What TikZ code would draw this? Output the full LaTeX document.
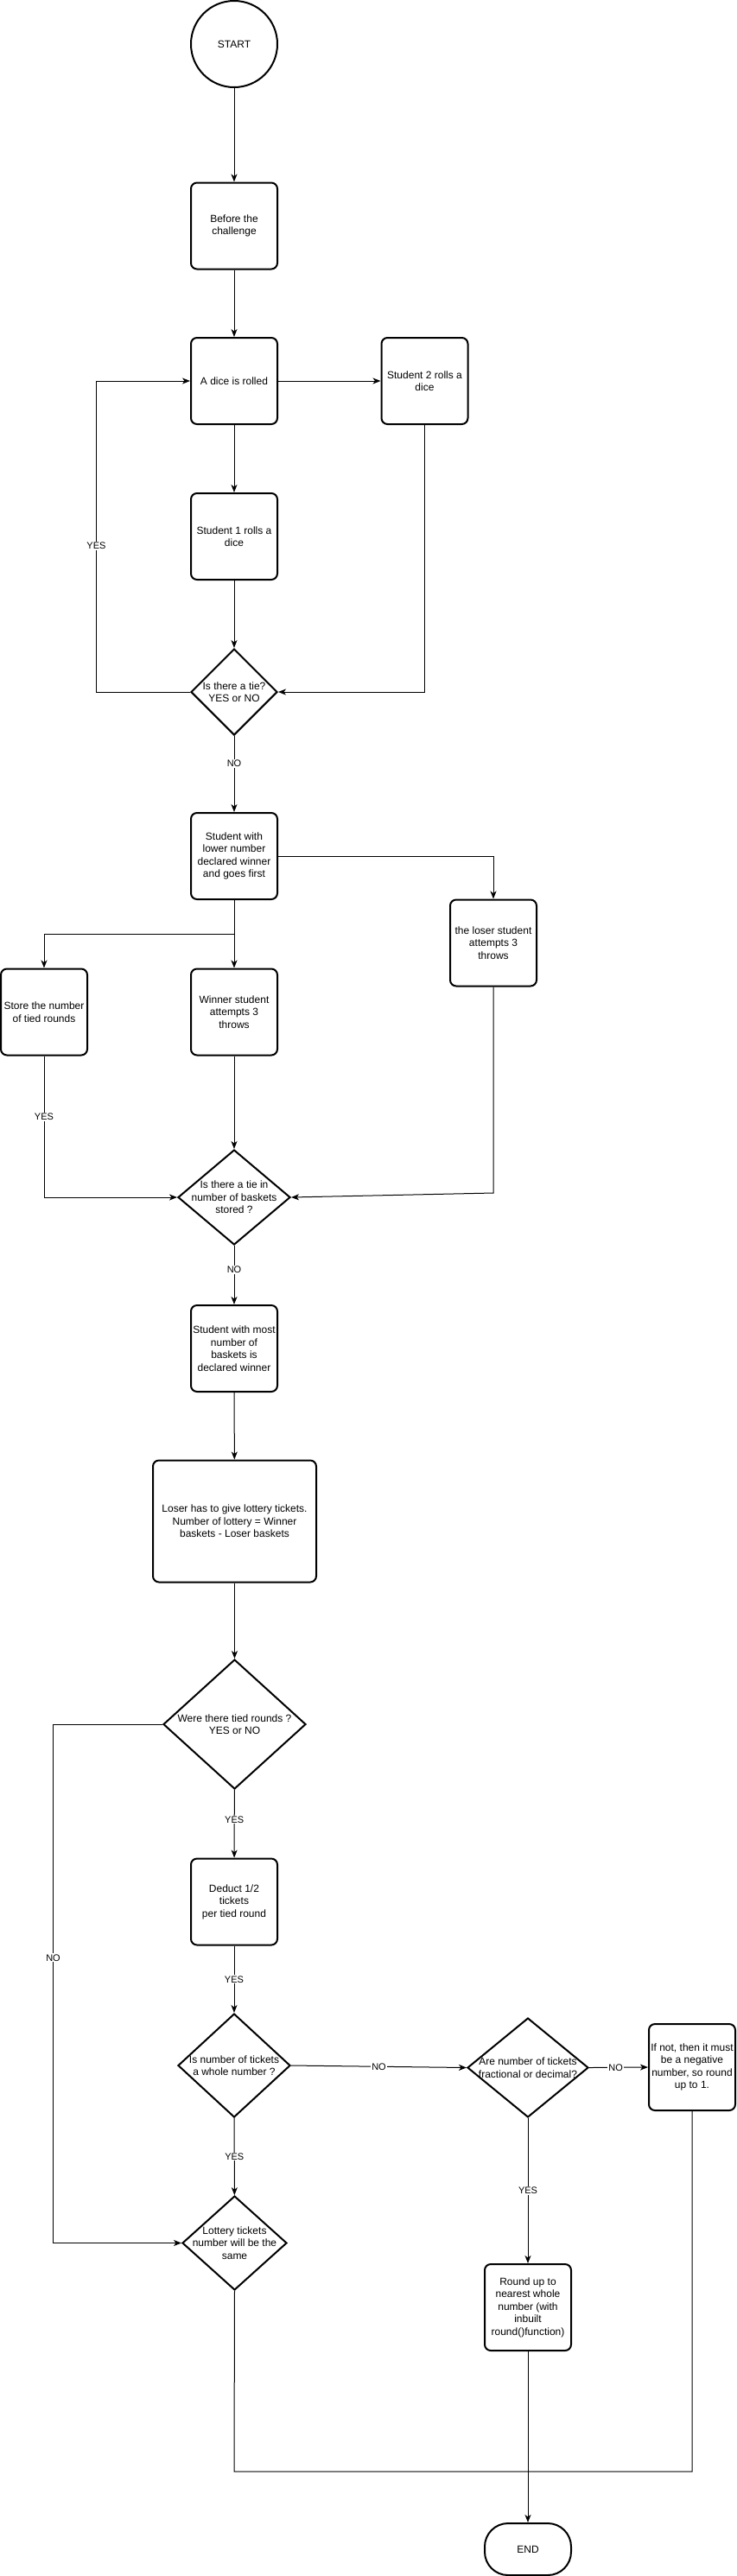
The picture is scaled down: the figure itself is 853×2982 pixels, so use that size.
\documentclass[tikz,border=0pt]{standalone}
\usepackage{fontspec}
\setmainfont{Liberation Sans}
\usetikzlibrary{shapes.geometric,arrows.meta}
\begin{document}
\begin{tikzpicture}[x=1pt,y=-1pt,
  box/.style={draw, line width=2pt, rounded corners=7pt, minimum width=100pt, minimum height=100pt, align=center, inner sep=0pt, font=\fontsize{12}{14.5}\selectfont},
  decision/.style={draw, diamond, line width=2pt, inner sep=0pt},
  dtext/.style={align=center, inner sep=0pt, font=\fontsize{12}{14.5}\selectfont},
  elabel/.style={fill=white, inner sep=1pt, font=\fontsize{11}{13}\selectfont},
  conn/.style={line width=1pt, -{Stealth[length=9pt,width=7pt,inset=2.5pt]}},
  plain/.style={line width=1pt}]
\useasboundingbox (0,0) rectangle (853,2982);
% nodes
\node[draw, circle, line width=2pt, minimum size=100pt, inner sep=0pt, font=\fontsize{12}{14.5}\selectfont] (start) at (271,51) {START};
\node[box] (before) at (271,261.5) {Before the\\challenge};
\node[box] (dice) at (271,441) {A dice is rolled};
\node[box] (s2) at (491.5,441) {Student 2 rolls a\\dice};
\node[box] (s1) at (271,621) {Student 1 rolls a\\dice};
\node[decision, minimum width=100pt, minimum height=100pt] (tie1) at (271,801) {};
\node[dtext] (tie1t) at (tie1.center) {Is there a tie?\\YES or NO};
\node[box] (lower) at (271,991) {Student with\\lower number\\declared winner\\and goes first};
\node[box] (loser) at (571,1091.5) {the loser student\\attempts 3\\throws};
\node[box] (store) at (51,1171.5) {Store the number\\of tied rounds};
\node[box] (winner) at (271,1171.5) {Winner student\\attempts 3\\throws};
\node[decision, minimum width=130pt, minimum height=110pt] (tie2) at (271,1386) {};
\node[dtext] (tie2t) at (tie2.center) {Is there a tie in\\number of baskets\\stored ?};
\node[box] (most) at (271,1561) {Student with most\\number of\\baskets is\\declared winner};
\node[box, minimum width=189pt, minimum height=141pt] (give) at (271.5,1761) {Loser has to give lottery tickets.\\Number of lottery = Winner\\baskets - Loser baskets};
\node[decision, minimum width=165pt, minimum height=150pt] (tied) at (271.5,1996) {};
\node[dtext] (tiedt) at (tied.center) {Were there tied rounds ?\\YES or NO};
\node[box] (deduct) at (271,2201.5) {Deduct 1/2\\tickets\\per tied round};
\node[decision, minimum width=130pt, minimum height=120pt] (whole) at (271,2391) {};
\node[dtext] (wholet) at (whole.center) {Is number of tickets\\a whole number ?};
\node[decision, minimum width=140pt, minimum height=115pt] (frac) at (611,2393.5) {};
\node[dtext] (fract) at (frac.center) {Are number of tickets\\fractional or decimal?};
\node[box] (ifnot) at (801,2393) {If not, then it must\\be a negative\\number, so round\\up to 1.};
\node[decision, minimum width=121pt, minimum height=109pt] (lottery) at (271.5,2596.5) {};
\node[dtext] (lotteryt) at (lottery.center) {Lottery tickets\\number will be the\\same};
\node[box] (round) at (611,2671) {Round up to\\nearest whole\\number (with\\inbuilt\\round()function)};
\node[draw, line width=2pt, rounded corners=27pt, minimum width=100pt, minimum height=60pt, inner sep=0pt, font=\fontsize{12}{14.5}\selectfont] (end) at (611,2951) {END};
% helper coordinates
\coordinate (yesloop) at (111.5,801);
\coordinate (split) at (271,1081);
\coordinate (loserbend) at (571,1381);
\coordinate (nobend) at (61.5,1996);
\coordinate (joinL) at (271,2861);
% connectors
\draw[conn] (start) -- (before);
\draw[conn] (before) -- (dice);
\draw[conn] (dice) -- (s2);
\draw[conn] (dice) -- (s1);
\draw[conn] (s1) -- (tie1);
\draw[conn] (s2.south) |- (tie1.east);
\draw[conn] (tie1.west) -- (yesloop) -- node[elabel, pos=0.47] {YES} (yesloop |- dice.west) -- (dice.west);
\draw[conn] (tie1) -- node[elabel, pos=0.36] {NO} (lower);
\draw[conn] (lower.east) -| (loser.north);
\draw[conn] (lower.south) -- (winner.north);
\draw[conn] (split) -| (store.north);
\draw[conn] (store.south) -- node[elabel, pos=0.43] {YES} (store.south |- tie2.west) -- (tie2.west);
\draw[conn] (winner) -- (tie2);
\draw[conn] (loser.south) -- (loserbend) -- (tie2.east);
\draw[conn] (tie2) -- node[elabel, pos=0.41] {NO} (most);
\draw[conn] (most) -- (give);
\draw[conn] (give) -- (tied);
\draw[conn] (tied) -- node[elabel, pos=0.44] {YES} (deduct);
\draw[conn] (tied.west) -- (nobend) -- node[elabel, pos=0.45] {NO} (nobend |- lottery.west) -- (lottery.west);
\draw[conn] (deduct) -- node[elabel, pos=0.5] {YES} (whole);
\draw[conn] (whole.east) -- node[elabel, pos=0.5] {NO} (frac.west);
\draw[conn] (frac.east) -- node[elabel, pos=0.45] {NO} (ifnot.west);
\draw[conn] (whole) -- node[elabel, pos=0.5] {YES} (lottery);
\draw[conn] (frac) -- node[elabel, pos=0.5] {YES} (round);
\draw[conn] (round) -- (end);
\draw[plain] (lottery.south) -- (joinL) -| (ifnot.south);
\end{tikzpicture}
\end{document}
